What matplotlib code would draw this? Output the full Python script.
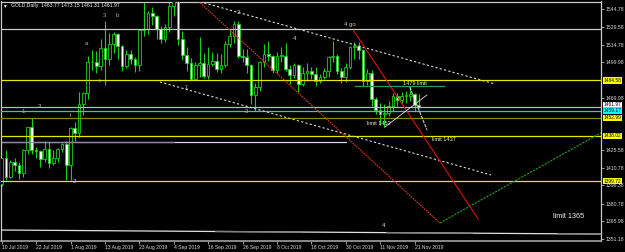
import matplotlib
matplotlib.use('Agg')
import matplotlib.pyplot as plt

# ---------------- data ----------------
opens = [1397.5, 1418.8, 1403.5, 1415.6, 1413.6, 1406.6, 1425.6, 1445.0, 1426.2, 1425.0,
         1418.0, 1427.0, 1414.8, 1418.8, 1426.4, 1430.6, 1413.4, 1444.9, 1440.6, 1464.4,
         1474.2, 1499.9, 1500.3, 1496.9, 1511.6, 1502.3, 1515.5, 1523.3, 1513.3, 1496.7,
         1506.8, 1502.5, 1497.9, 1526.8, 1527.6, 1541.8, 1538.7, 1527.8, 1519.7, 1529.3,
         1547.4, 1552.2, 1519.4, 1506.2, 1499.2, 1486.1, 1497.3, 1498.9, 1488.4, 1498.1,
         1501.3, 1494.2, 1498.0, 1515.5, 1522.3, 1531.9, 1504.9, 1504.3, 1497.8, 1472.4,
         1478.8, 1499.8, 1506.8, 1504.8, 1493.1, 1505.0, 1505.5, 1494.5, 1489.0, 1497.7,
         1481.9, 1490.6, 1492.4, 1490.1, 1484.4, 1487.1, 1492.3, 1504.1, 1505.0, 1492.8,
         1487.5, 1495.9, 1512.8, 1513.7, 1510.5, 1484.4, 1491.2, 1469.0, 1459.4, 1456.6,
         1456.8, 1463.4, 1471.4, 1468.4, 1471.5, 1471.6, 1473.3, 1463.77]
highs = [1419.6, 1425.6, 1417.2, 1419.5, 1416.0, 1426.8, 1445.2, 1452.6, 1428.2, 1426.0,
         1433.6, 1433.0, 1425.8, 1428.0, 1432.0, 1433.6, 1445.6, 1449.6, 1474.6, 1475.2,
         1504.8, 1509.9, 1509.0, 1519.2, 1534.9, 1524.2, 1525.0, 1524.7, 1514.4, 1510.5,
         1509.9, 1504.2, 1527.5, 1555.2, 1542.9, 1546.8, 1540.0, 1530.3, 1531.9, 1552.5,
         1557.0, 1552.8, 1525.9, 1512.7, 1503.3, 1500.0, 1521.4, 1508.1, 1512.6, 1508.5,
         1507.3, 1507.1, 1517.4, 1527.6, 1535.0, 1534.5, 1511.0, 1511.3, 1498.1, 1482.1,
         1500.6, 1515.0, 1517.4, 1506.0, 1508.4, 1512.7, 1516.0, 1497.5, 1499.4, 1498.5,
         1495.7, 1499.4, 1496.0, 1495.6, 1490.2, 1495.0, 1505.0, 1518.0, 1507.0, 1494.8,
         1499.3, 1514.0, 1517.0, 1516.6, 1511.0, 1494.4, 1493.3, 1470.7, 1465.4, 1464.4,
         1467.5, 1474.1, 1474.1, 1475.2, 1475.4, 1479.0, 1474.0, 1473.15]
lows = [1395.6, 1400.6, 1402.6, 1408.6, 1401.6, 1403.6, 1422.8, 1422.5, 1419.6, 1412.0,
        1416.0, 1411.0, 1413.5, 1415.6, 1424.0, 1400.8, 1400.3, 1433.2, 1437.0, 1455.6,
        1468.9, 1493.1, 1490.8, 1493.6, 1480.4, 1497.7, 1508.1, 1502.7, 1492.3, 1494.8,
        1498.8, 1491.8, 1492.9, 1522.1, 1523.3, 1531.0, 1519.2, 1516.2, 1517.1, 1525.2,
        1539.3, 1514.4, 1502.0, 1492.9, 1484.6, 1484.9, 1487.1, 1487.0, 1485.6, 1496.9,
        1492.0, 1490.6, 1495.6, 1512.4, 1516.2, 1503.3, 1499.9, 1491.1, 1465.1, 1458.7,
        1475.6, 1495.6, 1500.8, 1490.8, 1491.0, 1500.0, 1492.2, 1481.4, 1486.6, 1474.9,
        1480.3, 1484.2, 1485.9, 1479.8, 1482.6, 1485.4, 1487.3, 1500.2, 1489.6, 1482.0,
        1483.1, 1494.6, 1502.9, 1502.9, 1479.6, 1480.5, 1462.8, 1456.1, 1446.6, 1445.6,
        1454.5, 1458.6, 1463.0, 1465.6, 1465.2, 1467.0, 1459.2, 1461.31]
closes = [1418.8, 1403.5, 1415.6, 1413.6, 1406.6, 1425.6, 1445.0, 1426.2, 1425.0, 1418.0,
          1427.0, 1414.8, 1418.8, 1426.4, 1430.6, 1413.4, 1444.9, 1440.6, 1464.4, 1474.2,
          1499.9, 1500.3, 1496.9, 1511.6, 1502.3, 1515.5, 1523.3, 1513.3, 1496.7, 1506.8,
          1502.5, 1497.9, 1526.8, 1527.6, 1541.8, 1538.7, 1527.8, 1519.7, 1529.3, 1547.4,
          1552.2, 1519.4, 1506.2, 1499.2, 1486.1, 1497.3, 1498.9, 1488.4, 1498.1, 1501.3,
          1494.2, 1498.0, 1515.5, 1522.3, 1531.9, 1504.9, 1504.3, 1497.8, 1472.4, 1478.8,
          1499.8, 1506.8, 1504.8, 1493.1, 1505.0, 1505.5, 1494.5, 1489.0, 1497.7, 1481.9,
          1490.6, 1492.4, 1490.1, 1484.4, 1487.1, 1492.3, 1504.1, 1505.0, 1492.8, 1487.5,
          1495.9, 1512.8, 1513.7, 1510.5, 1484.4, 1491.2, 1469.0, 1459.4, 1456.6, 1456.8,
          1463.4, 1471.4, 1468.4, 1471.5, 1471.6, 1473.3, 1463.77, 1461.97]

title = "GOLD,Daily  1463.77 1473.15 1461.31 1461.97"
date_tick_idx = [0, 8, 16, 24, 32, 40, 48, 56, 64, 72, 80, 88, 96]
date_tick_labels = ["10 Jul 2019", "22 Jul 2019", "1 Aug 2019", "13 Aug 2019", "23 Aug 2019",
                    "4 Sep 2019", "16 Sep 2019", "26 Sep 2019", "8 Oct 2019", "18 Oct 2019",
                    "30 Oct 2019", "11 Nov 2019", "21 Nov 2019"]
price_ticks = [1544.78, 1529.58, 1514.78, 1499.98, 1469.98, 1425.58, 1410.78,
               1396.38, 1380.78, 1365.98, 1351.18]

# full-width horizontal levels
level_prices = [1527.7, 1484.58, 1461.97, 1459.17, 1452.99, 1438.02, 1399.72]
level_colors = ['#c8c8c8', '#e6e600', '#b8b8b8', '#00d8e0', '#8a8a10', '#e6e600', '#e6e600']
# boxed price labels on the axis
box_prices = [1484.58, 1461.97, 1459.17, 1452.99, 1438.02, 1399.72]
box_colors = ['#ffff00', '#ffffff', '#00ffff', '#ffff00', '#ffff00', '#ffff00']
box_valign = ['center', 'bottom', 'center', 'center', 'center', 'center']

# trend lines: (x0, p0, x1, p1) in bar index / price
upper_channel = (46.1, 1550.9, 114.7, 1481.6)
lower_channel = (36.8, 1483.3, 113.8, 1404.9)
orange_line = (45.7, 1551.5, 101.9, 1364.4)
green_line = (101.9, 1364.4, 139.4, 1440.5)
red_line = (81.9, 1526.2, 110.8, 1367.8)
limit_1479_seg = (82.2, 1479.9, 102.9, 1479.9)
rise_line = (89.1, 1445.3, 98.9, 1472.3)
fall_line = (94.9, 1479.0, 98.9, 1442.8)
mid_gray_seg = (0.0, 1432.5, 80.1, 1432.5)
mid_gray_dark = (0.0, 1432.5, 40.1, 1432.5)
bottom_line = (-0.2, 1358.5, 139.4, 1355.1)
bottom_gray_parts = [(49.8, 69.4), (89.6, 109.4), (129.4, 139.4)]

# text labels: (text, x index, price, color, size)
labels = [("3", 23.8, 1538.9, '#a0a0b0', 4.3), ("b", 26.8, 1538.9, '#9fb4d8', 4.3),
          ("a", 19.8, 1516.1, '#b0b0c8', 4.3), ("c", 22.6, 1484.9, '#8090c8', 4.3),
          ("1", 42.9, 1478.2, '#b0c0e0', 4.3), ("2", 55.0, 1542.2, '#c8c8c8', 4.3),
          ("4", 68.0, 1520.3, '#c8d0e8', 4.3), ("4 go", 81.0, 1532.1, '#d8c8b0', 4.3),
          ("3", 57.0, 1458.0, '#b8b8b8', 4.3), ("3", 8.9, 1462.2, '#b8b8c8', 4.3),
          ("1", 5.0, 1458.8, '#a8a8b8', 4.3), ("i", 15.9, 1455.4, '#c8c8c8', 4.3),
          ("2", 17.0, 1399.0, '#c8c8c8', 4.3), ("4", 88.9, 1362.7, '#d8d8d8', 4.3),
          ("limit 1452", 87.7, 1448.7, '#f0f0f0', 4.0), ("1479 limit", 96.1, 1482.4, '#f0f0f0', 4.0),
          ("limit 1437", 102.9, 1435.2, '#f0f0f0', 4.0), ("limit 1365", 131.9, 1369.5, '#f0f0f0', 5.2)]

# ---------------- drawing ----------------
plt.rcParams['font.family'] = ['Liberation Sans', 'DejaVu Sans']
GREEN = '#18d018'

fig = plt.figure(figsize=(6.25, 2.52), dpi=100, facecolor='black')
ax = fig.add_axes([1 / 625, 11 / 252, 600 / 625, 239.5 / 252])
ax.set_facecolor('black')

n = len(closes)
xs = list(range(n))
ax.vlines(xs, lows, highs, colors=GREEN, linewidth=0.8, zorder=2)
bottoms = [min(o, c) for o, c in zip(opens, closes)]
heights = [max(abs(c - o), 0.6) for o, c in zip(opens, closes)]
faces = ['black' if c >= o else 'white' for o, c in zip(opens, closes)]
ax.bar(xs, heights, bottom=bottoms, width=0.62, color=faces, edgecolor=GREEN,
       linewidth=0.6, zorder=3)

for p, col in zip(level_prices, level_colors):
    ax.axhline(p, color=col, linewidth=0.9, zorder=4)


def seg(s, **kw):
    ax.plot([s[0], s[2]], [s[1], s[3]], **kw)


seg(upper_channel, color='#d8d8d8', linewidth=0.8, linestyle=(0, (2, 2)), zorder=5)
seg(lower_channel, color='#d8d8d8', linewidth=0.8, linestyle=(0, (2, 2)), zorder=5)
seg(orange_line, color='#d84010', linewidth=0.8, linestyle=(0, (1.5, 0.8)), zorder=5)
seg(green_line, color='#20a020', linewidth=0.8, linestyle=(0, (2, 1)), zorder=5)
seg(red_line, color='#e01010', linewidth=0.8, zorder=5)
seg(limit_1479_seg, color='#2e9a60', linewidth=0.9, zorder=5)
seg(rise_line, color='#e0e0e0', linewidth=0.6, zorder=5)
seg(fall_line, color='#c8c8c8', linewidth=0.8, linestyle=(0, (3, 1)), zorder=5)
seg(mid_gray_seg, color='#d8d8d8', linewidth=0.9, zorder=4)
seg(mid_gray_dark, color='#8c8c8c', linewidth=0.9, zorder=4)
seg(bottom_line, color='#e0e0e0', linewidth=0.9, zorder=4)
slope = (bottom_line[3] - bottom_line[1]) / (bottom_line[2] - bottom_line[0])
for a, b in bottom_gray_parts:
    ax.plot([a, b], [bottom_line[1] + slope * (a - bottom_line[0]),
                     bottom_line[1] + slope * (b - bottom_line[0])],
            color='#808080', linewidth=1.0, zorder=4)

for t, x, y, col, fs in labels:
    ax.text(x, y, t, color=col, fontsize=fs, ha='center', va='center', zorder=6)

ax.set_xlim(-0.163, 139.37)
ax.set_ylim(1349.25, 1551.1)

# axes / ticks
for side in ['left', 'top', 'right']:
    ax.spines[side].set_color('#c8c8c8')
    ax.spines[side].set_linewidth(0.9)
ax.spines['bottom'].set_color('#a0a0a0')
ax.spines['bottom'].set_linewidth(1.2)

ax.yaxis.tick_right()
ax.set_yticks(price_ticks)
ax.set_yticklabels([f'{p:.2f}' for p in price_ticks])
ax.tick_params(axis='y', colors='#d8d8d8', labelsize=3.7, length=2, width=0.5, pad=1.5)
ax.set_xticks(date_tick_idx)
ax.set_xticklabels(date_tick_labels, ha='left')
ax.tick_params(axis='x', colors='#d8d8d8', labelsize=3.6, length=2, width=0.5, pad=1.2)

tr = ax.get_yaxis_transform()
for p, col, va in zip(box_prices, box_colors, box_valign):
    ax.text(1.004, p, f'{p:.2f}', transform=tr, fontsize=3.5, color='black',
            ha='left', va=va, clip_on=False, zorder=10,
            bbox=dict(boxstyle='square,pad=0.12', fc=col, ec='none'))

ax.text(0.005, 0.982, '\u25be', transform=ax.transAxes, color='white', fontsize=4,
        ha='left', va='center', family='DejaVu Sans')
ax.text(0.016, 0.982, title, transform=ax.transAxes, color='#f0f0f0', fontsize=3.7,
        ha='left', va='center')

fig.savefig('out.png', dpi=100, facecolor='black')
